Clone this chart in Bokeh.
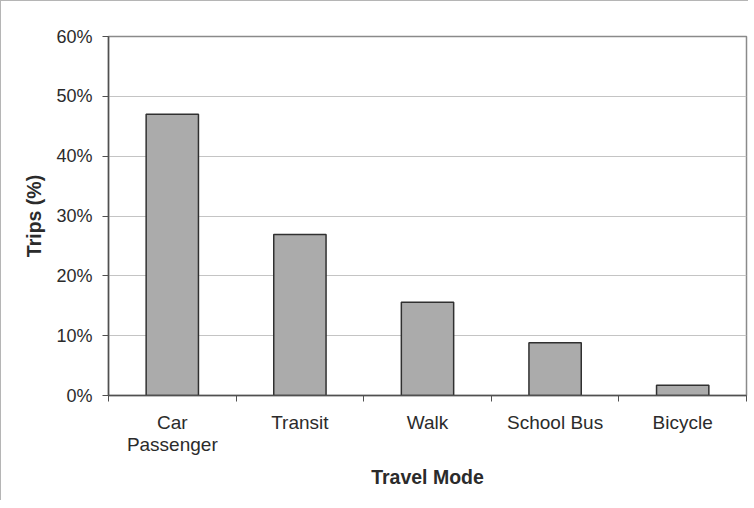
from bokeh.plotting import figure
from bokeh.models import ColumnDataSource, FixedTicker, NumeralTickFormatter, Range1d
from bokeh.embed import file_html
from bokeh.resources import INLINE

categories = ["Car Passenger", "Transit", "Walk", "School Bus", "Bicycle"]
tick_labels = ["Car\nPassenger", "Transit", "Walk", "School Bus", "Bicycle"]
trips = [0.470, 0.269, 0.156, 0.088, 0.017]
y_ticks = [0.0, 0.1, 0.2, 0.3, 0.4, 0.5, 0.6]

FONT = "Liberation Sans"
TXT = "#2b2b2b"

centers = [i + 0.5 for i in range(len(categories))]
boundaries = [float(i) for i in range(len(categories) + 1)]

src = ColumnDataSource(dict(x=centers, top=trips, cat=categories))

p = figure(width=748, height=500, output_backend="svg", toolbar_location=None,
           x_range=Range1d(0, len(categories)), y_range=Range1d(0, 0.6),
           min_border_left=107, min_border_right=3, min_border_top=35, min_border_bottom=106)

p.vbar(x="x", top="top", width=0.41, bottom=0, source=src,
       fill_color="#ababab", line_color="#303030", line_width=1.5)

p.outline_line_color = "#8a8a8a"
p.outline_line_width = 1.5
p.xgrid.visible = False
p.ygrid.grid_line_color = "#c4c4c4"
p.ygrid.grid_line_width = 1

# y axis
p.yaxis.ticker = FixedTicker(ticks=y_ticks)
p.yaxis.formatter = NumeralTickFormatter(format="0%")
p.yaxis.axis_label = "Trips (%)"
p.yaxis.major_tick_out = 6
p.yaxis.major_tick_in = 0
p.yaxis.major_label_standoff = 10
p.yaxis.axis_label_standoff = 8

# x axis
p.xaxis.ticker = FixedTicker(ticks=centers, minor_ticks=boundaries)
p.xaxis.major_label_overrides = {c: t for c, t in zip(centers, tick_labels)}
p.xaxis.major_tick_out = 0
p.xaxis.major_tick_in = 0
p.xaxis.minor_tick_out = 6
p.xaxis.minor_tick_in = 0
p.xaxis.axis_label = "Travel Mode"
p.xaxis.major_label_standoff = 10
p.xaxis.axis_label_standoff = 8
p.xaxis.major_label_text_line_height = 1.05

for ax in (p.xaxis[0], p.yaxis[0]):
    ax.axis_line_color = "#505050"
    ax.axis_line_width = 1.5
    ax.major_tick_line_color = "#505050"
    ax.minor_tick_line_color = "#505050" if ax is p.xaxis[0] else None
    ax.major_label_text_font = FONT
    ax.major_label_text_color = TXT
    ax.axis_label_text_font = FONT
    ax.axis_label_text_font_size = "19.5px"
    ax.axis_label_text_font_style = "bold"
    ax.axis_label_text_color = TXT

p.yaxis.major_label_text_font_size = "18px"
p.xaxis.major_label_text_font_size = "19px"

p.styles = {"border-left": "1px solid #b5b5b5", "border-top": "1px solid #b5b5b5"}

open("out.html", "w").write(file_html(p, INLINE))
